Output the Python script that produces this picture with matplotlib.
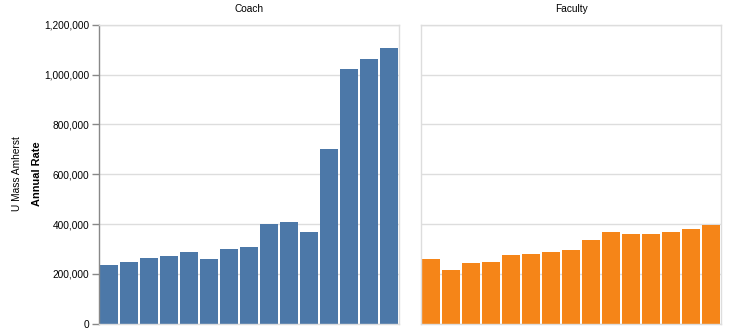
import matplotlib
matplotlib.use("Agg")
import matplotlib.pyplot as plt
from matplotlib.ticker import FuncFormatter
import numpy as np

plt.rcParams['font.family'] = ['Liberation Sans', 'DejaVu Sans']

years = list(range(2004, 2019))
coach = [235000, 246000, 263500, 273000, 286000, 259500, 300000, 309000,
         400000, 408000, 368000, 701000, 1022000, 1063000, 1105000]
faculty = [259500, 215000, 243500, 249000, 274000, 280000, 288000, 294000,
           336000, 366500, 358500, 358500, 368000, 380000, 395000]
panels = ["Coach", "Faculty"]
colors = ["#4c78a8", "#f58518"]
yticks = [0, 200000, 400000, 600000, 800000, 1000000, 1200000]

W, H = 729, 333
fig = plt.figure(figsize=(W / 100, H / 100), dpi=100)

def rect(x0, y0, x1, y1):
    return [x0 / W, 1 - y1 / H, (x1 - x0) / W, (y1 - y0) / H]

axes = [fig.add_axes(rect(99, 24.7, 399, 323.7)),
        fig.add_axes(rect(421, 24.7, 721, 323.7))]

for i, (ax, name, vals, col) in enumerate(zip(axes, panels, [coach, faculty], colors)):
    x = np.arange(len(years))
    ax.bar(x, vals, width=0.9, color=col, zorder=2)
    ax.set_xlim(-0.5, len(years) - 0.5)
    ax.set_ylim(0, 1200000)
    ax.set_yticks(yticks)
    ax.grid(axis='y', color='#dddddd', linewidth=1, zorder=0)
    ax.set_axisbelow(True)
    ax.set_xticks([])
    for s in ax.spines.values():
        s.set_color('#dddddd')
        s.set_linewidth(1)
    ax.set_title(name, fontsize=7.3, color='#000000', pad=9)
    if i == 0:
        ax.spines['left'].set_color('#888888')
        ax.yaxis.set_major_formatter(FuncFormatter(lambda v, p: f"{int(v):,}"))
        ax.tick_params(axis='y', length=5, width=1, color='#888888',
                       labelsize=7.3, labelcolor='#000000', pad=2)
    else:
        ax.tick_params(axis='y', length=0, labelleft=False)

fig.text(17 / W, 1 - 174 / H, "U Mass Amherst", rotation=90, ha='center', va='center',
         fontsize=7.3, color='#000000')
fig.text(37 / W, 1 - 174 / H, "Annual Rate", rotation=90, ha='center', va='center',
         fontsize=7.9, fontweight='bold', color='#000000')

fig.savefig("out.png", dpi=100)
